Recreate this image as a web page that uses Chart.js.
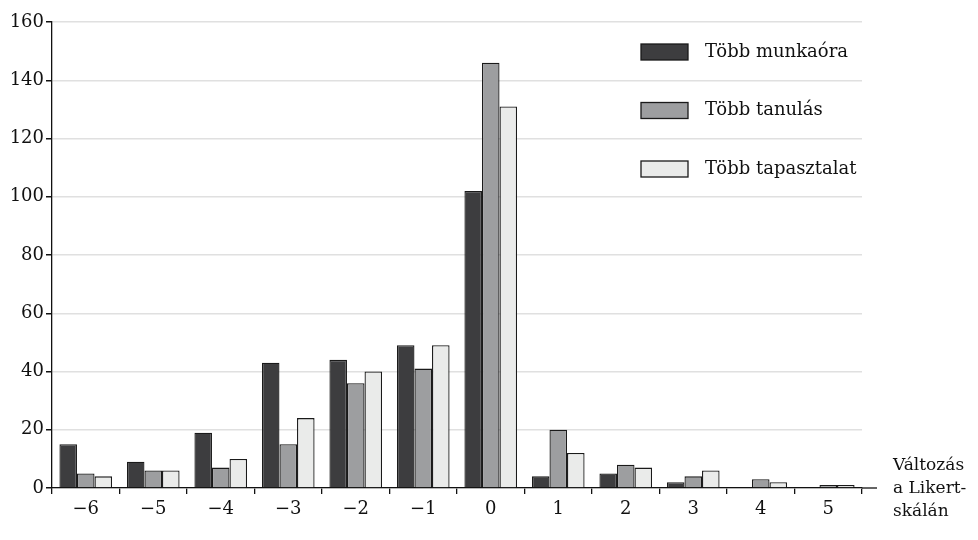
<!DOCTYPE html>
<html lang="hu">
<head>
    <meta charset="utf-8" />
    <title>Változás a Likert-skálán</title>
    <script src="https://cdn.jsdelivr.net/npm/chart.js"></script>
    <style>
        html, body { margin: 0; padding: 0; background: #fff; }
        #chart { display: block; }
    </style>
</head>
<body>
    <canvas id="chart" width="978" height="540"></canvas>

    <script>
        // Adatok
        const categories = ['\u22126', '\u22125', '\u22124', '\u22123', '\u22122', '\u22121', '0', '1', '2', '3', '4', '5'];
        const seriesNames = ['Több munkaóra', 'Több tanulás', 'Több tapasztalat'];
        const munkaora = [15, 9, 19, 43, 44, 49, 102, 4, 5, 2, 0, 0];
        const tanulas = [5, 6, 7, 15, 36, 41, 146, 20, 8, 4, 3, 1];
        const tapasztalat = [4, 6, 10, 24, 40, 49, 131, 12, 7, 6, 2, 1];
        const axisTitle = ['Változás', 'a Likert-', 'skálán'];

        const colors = ['#3d3d3f', '#9d9ea0', '#eaebea'];
        const font = 'DejaVu Serif';

        // Jelmagyarázat és tengelycím rajzolása
        const extras = {
            id: 'extras',
            afterDraw(chart) {
                const ctx = chart.ctx;
                const area = chart.chartArea;
                ctx.save();
                // x tengely meghosszabbítása
                ctx.strokeStyle = '#111';
                ctx.lineWidth = 1.3;
                ctx.beginPath();
                ctx.moveTo(area.right, area.bottom);
                ctx.lineTo(area.right + 15, area.bottom);
                ctx.stroke();

                ctx.font = '18px "' + font + '"';
                ctx.textBaseline = 'middle';
                ctx.textAlign = 'left';
                chart.data.datasets.forEach((ds, i) => {
                    const y = 52 + i * 58.5;
                    ctx.fillStyle = ds.backgroundColor;
                    ctx.fillRect(641, y - 8, 47, 16);
                    ctx.strokeStyle = '#1a1a1a';
                    ctx.lineWidth = 1.3;
                    ctx.strokeRect(641, y - 8, 47, 16);
                    ctx.fillStyle = '#111';
                    ctx.fillText(ds.label, 705, y);
                });

                ctx.font = '17px "' + font + '"';
                axisTitle.forEach((t, i) => {
                    ctx.fillText(t, 893, 466 + i * 23);
                });
                ctx.restore();
            }
        };

        new Chart(document.getElementById('chart'), {
            type: 'bar',
            data: {
                labels: categories,
                datasets: [munkaora, tanulas, tapasztalat].map((d, i) => ({
                    label: seriesNames[i],
                    data: d,
                    backgroundColor: colors[i],
                    borderColor: '#1a1a1a',
                    borderWidth: 1.3,
                    barPercentage: 1,
                    categoryPercentage: 0.78
                }))
            },
            options: {
                responsive: false,
                animation: false,
                layout: { padding: { top: 22, right: 116, left: 0, bottom: 0 } },
                plugins: {
                    legend: { display: false },
                    tooltip: { enabled: false }
                },
                scales: {
                    x: {
                        offset: true,
                        grid: {
                            offset: true,
                            drawOnChartArea: false,
                            tickLength: 6,
                            tickColor: '#111',
                            lineWidth: 1.3
                        },
                        border: { color: '#111', width: 1.3 },
                        ticks: {
                            color: '#111',
                            padding: 5,
                            maxRotation: 0,
                            font: { family: font, size: 18 }
                        },
                        afterFit: s => { s.height = 52; }
                    },
                    y: {
                        min: 0,
                        max: 160,
                        ticks: {
                            stepSize: 20,
                            color: '#111',
                            padding: 2,
                            font: { family: font, size: 18 }
                        },
                        grid: {
                            color: '#e0e0e0',
                            lineWidth: 1.5,
                            tickLength: 6,
                            tickColor: '#111'
                        },
                        border: { color: '#111', width: 1.3 },
                        afterFit: s => { s.width = 52; }
                    }
                }
            },
            plugins: [extras]
        });
    </script>
</body>
</html>
